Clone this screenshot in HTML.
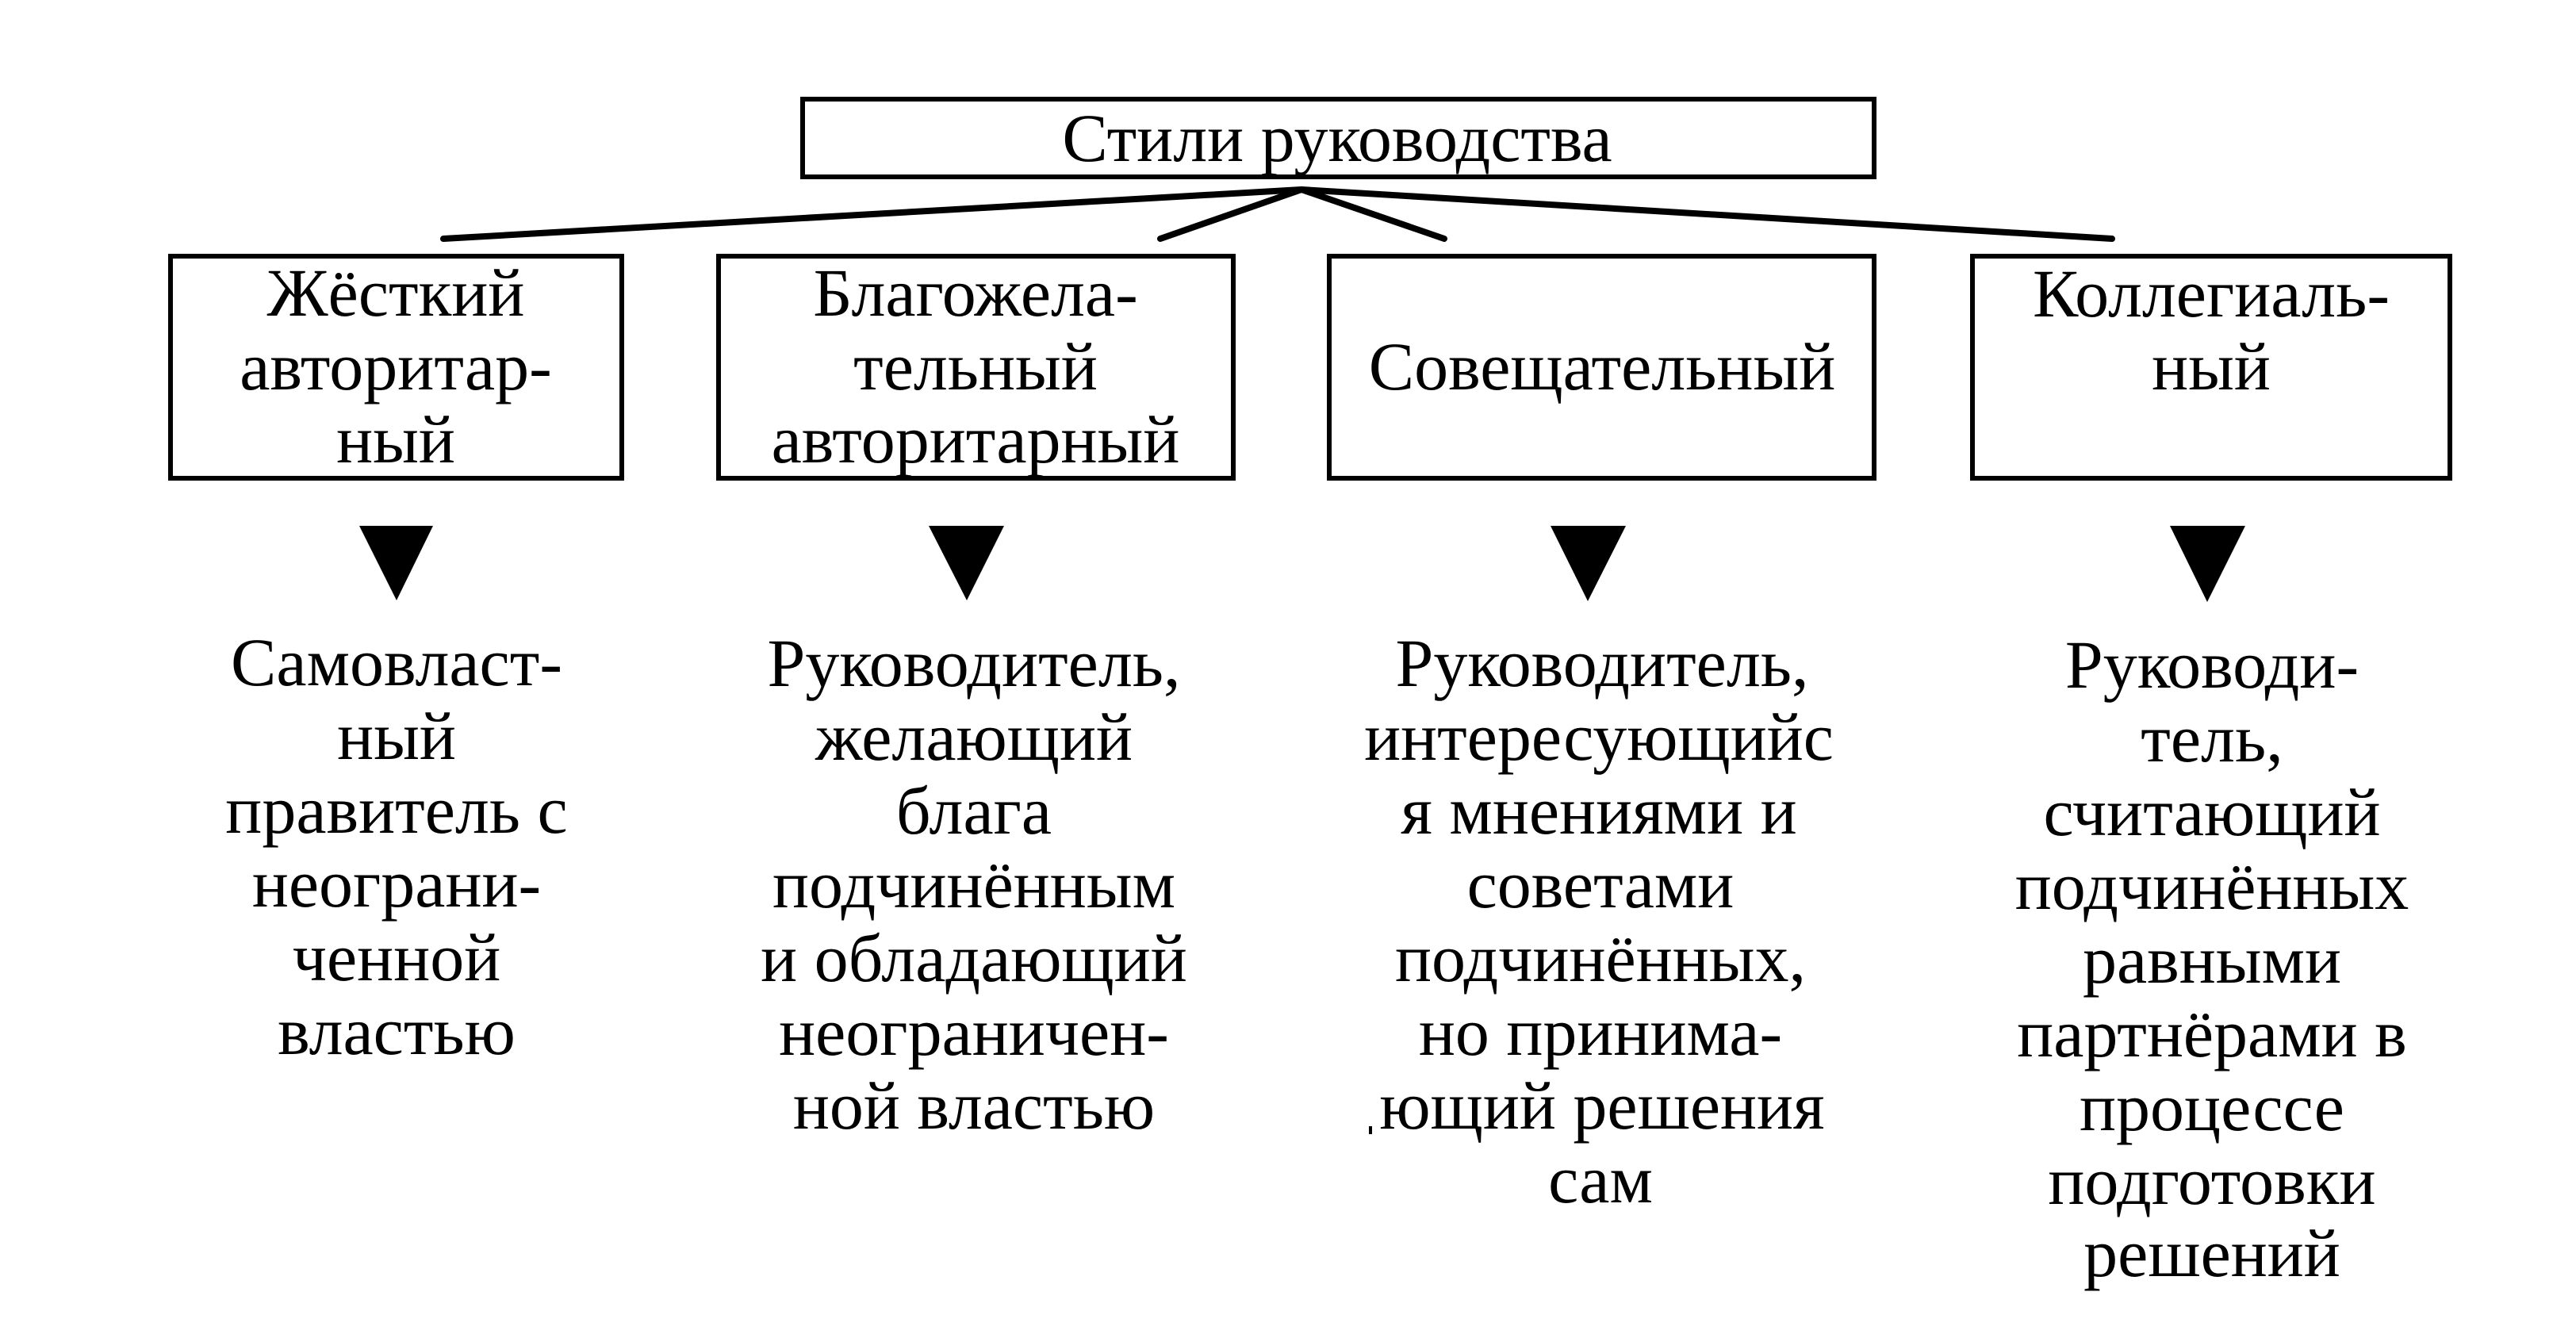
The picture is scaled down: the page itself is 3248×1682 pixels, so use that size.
<!DOCTYPE html>
<html>
<head>
<meta charset="utf-8">
<style>
  html, body { margin: 0; padding: 0; background: #fff; }
  svg { display: block; }
  text { font-family: "Liberation Serif", "DejaVu Serif", serif; font-size: 86px; fill: #000; }
</style>
</head>
<body>
<svg width="3248" height="1682" viewBox="0 0 3248 1682" xmlns="http://www.w3.org/2000/svg">
  <rect x="0" y="0" width="3248" height="1682" fill="#fff"/>

  <!-- Title box -->
  <rect x="1012" y="125" width="1351" height="98" fill="none" stroke="#000" stroke-width="6"/>
  <text x="1686" y="203" text-anchor="middle">Стили руководства</text>

  <!-- Connectors -->
  <g stroke="#000" stroke-width="8" stroke-linecap="round" fill="none">
    <line x1="1641" y1="239" x2="559" y2="301"/>
    <line x1="1641" y1="239" x2="1463" y2="301"/>
    <line x1="1641" y1="239" x2="1821" y2="301"/>
    <line x1="1641" y1="239" x2="2663" y2="301"/>
  </g>

  <!-- Boxes -->
  <g fill="none" stroke="#000" stroke-width="6">
    <rect x="215" y="323" width="569" height="280"/>
    <rect x="906" y="323" width="649" height="280"/>
    <rect x="1676" y="323" width="687" height="280"/>
    <rect x="2487" y="323" width="602" height="280"/>
  </g>

  <!-- Box texts -->
  <text x="499" y="398" text-anchor="middle">Жёсткий</text>
  <text x="499" y="491" text-anchor="middle">авторитар-</text>
  <text x="499" y="583" text-anchor="middle">ный</text>

  <text x="1230" y="398" text-anchor="middle">Благожела-</text>
  <text x="1230" y="491" text-anchor="middle">тельный</text>
  <text x="1230" y="583" text-anchor="middle">авторитарный</text>

  <text x="2020" y="491" text-anchor="middle">Совещательный</text>

  <text x="2788" y="399" text-anchor="middle">Коллегиаль-</text>
  <text x="2788" y="491" text-anchor="middle">ный</text>

  <!-- Triangles -->
  <g fill="#000">
    <polygon points="453,663 546,663 500,757"/>
    <polygon points="1171,663 1266,663 1219,757"/>
    <polygon points="1955,663 2050,663 2002,758"/>
    <polygon points="2736,663 2831,663 2783,759"/>
  </g>

  <!-- Column 1 -->
  <g text-anchor="middle">
    <text x="500" y="864">Самовласт-</text>
    <text x="500" y="957">ный</text>
    <text x="500" y="1050">правитель с</text>
    <text x="500" y="1143">неограни-</text>
    <text x="500" y="1236">ченной</text>
    <text x="500" y="1329">властью</text>
  </g>

  <!-- Column 2 -->
  <g text-anchor="middle">
    <text x="1228" y="865">Руководитель,</text>
    <text x="1228" y="958">желающий</text>
    <text x="1228" y="1051">блага</text>
    <text x="1228" y="1144">подчинённым</text>
    <text x="1228" y="1237">и обладающий</text>
    <text x="1228" y="1330">неограничен-</text>
    <text x="1228" y="1423">ной властью</text>
  </g>

  <!-- Column 3 -->
  <g text-anchor="middle">
    <text x="2020" y="865">Руководитель,</text>
    <text x="2016" y="958">интересующийс</text>
    <text x="2016" y="1051">я мнениями и</text>
    <text x="2018" y="1144">советами</text>
    <text x="2018" y="1237">подчинённых,</text>
    <text x="2018" y="1330">но принима-</text>
    <text x="2020" y="1423">ющий решения</text>
    <text x="2018" y="1516">сам</text>
  </g>
  <rect x="1726" y="1420" width="4" height="10" fill="#000"/>

  <!-- Column 4 -->
  <g text-anchor="middle">
    <text x="2789" y="867">Руководи-</text>
    <text x="2789" y="960">тель,</text>
    <text x="2789" y="1053">считающий</text>
    <text x="2789" y="1146">подчинённых</text>
    <text x="2789" y="1239">равными</text>
    <text x="2789" y="1332">партнёрами в</text>
    <text x="2789" y="1425">процессе</text>
    <text x="2789" y="1518">подготовки</text>
    <text x="2789" y="1609">решений</text>
  </g>
</svg>
</body>
</html>
